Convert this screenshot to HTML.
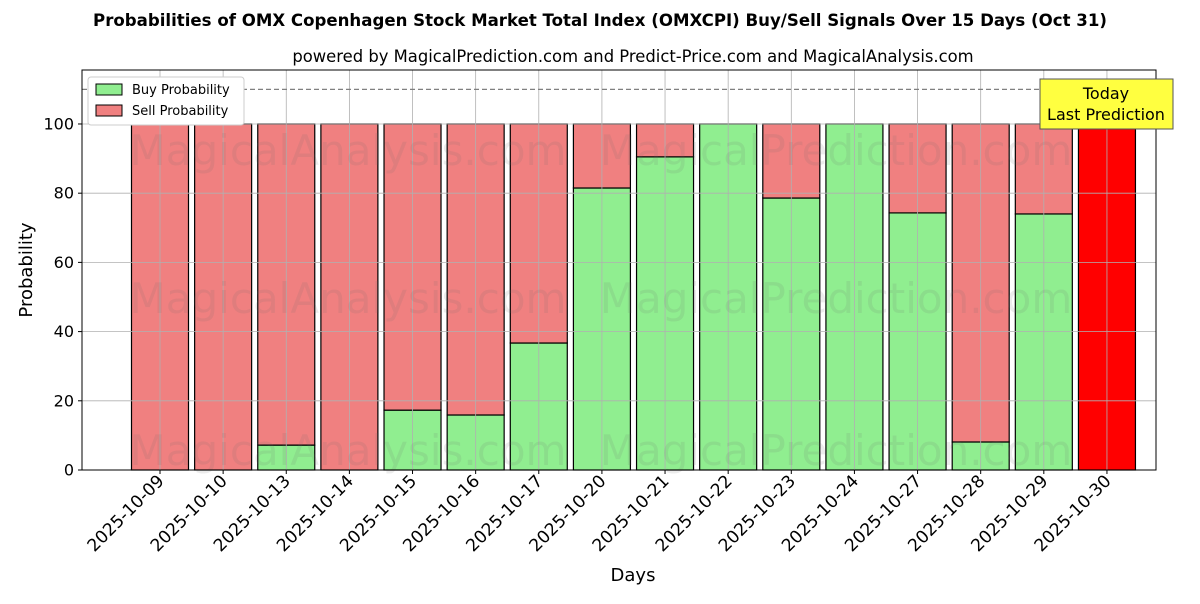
<!DOCTYPE html>
<html><head><meta charset="utf-8"><style>
body{margin:0;background:#fff;font-family:"DejaVu Sans","Liberation Sans",sans-serif;}
</style></head><body>
<svg id="chart" width="1200" height="600" xmlns="http://www.w3.org/2000/svg" font-family="DejaVu Sans, Liberation Sans, sans-serif">
<text x="600" y="26" text-anchor="middle" font-size="16.6" font-weight="bold">Probabilities of OMX Copenhagen Stock Market Total Index (OMXCPI) Buy/Sell Signals Over 15 Days (Oct 31)</text>
<text x="633" y="62" text-anchor="middle" font-size="16.4">powered by MagicalPrediction.com and Predict-Price.com and MagicalAnalysis.com</text>
<g id="plot"></g>
<text x="633" y="581" text-anchor="middle" font-size="18">Days</text>
<text transform="translate(32,270) rotate(-90)" text-anchor="middle" font-size="18">Probability</text>
</svg>
<script>
const categories=["2025-10-09","2025-10-10","2025-10-13","2025-10-14","2025-10-15","2025-10-16","2025-10-17","2025-10-20","2025-10-21","2025-10-22","2025-10-23","2025-10-24","2025-10-27","2025-10-28","2025-10-29","2025-10-30"];
const buyValues=[0,0,7.2,0,17.3,15.9,36.7,81.5,90.5,100,78.6,100,74.3,8.1,74,0];
const sellValues=[100,100,92.8,100,82.7,84.1,63.3,18.5,9.5,0,21.4,0,25.7,91.9,26,100];
const yTicks=[0,20,40,60,80,100];
const L=82,R=1156,T=70,B=470;
const yMax=115.6;
const y=v=>B-(v/yMax)*(B-T);
const x=i=>160+i*63.13;
const bw=57;
const NS="http://www.w3.org/2000/svg";
const g=document.getElementById('plot');
function mk(t,a,p){const e=document.createElementNS(NS,t);for(const k in a)e.setAttribute(k,a[k]);(p||g).appendChild(e);return e;}
categories.forEach((c,i)=>{
 const last=i===categories.length-1;
 if(buyValues[i]>0){
  const r=mk('rect',{x:x(i)-bw/2,y:y(buyValues[i]),width:bw,height:y(0)-y(buyValues[i]),fill:'#90ee90',stroke:'#000','stroke-width':1.2});
  
  
 }
 if(sellValues[i]>0){
  const top=buyValues[i]+sellValues[i];
  const r=mk('rect',{x:x(i)-bw/2,y:y(top),width:bw,height:y(buyValues[i])-y(top),fill:last?'#ff0000':'#f08080',stroke:'#000','stroke-width':1.2});
  
  
 }
});
yTicks.forEach(v=>{
 const l=mk('line',{x1:L,x2:R,y1:y(v),y2:y(v),stroke:'#b0b0b0','stroke-width':0.8});
 
 
 mk('line',{x1:L-4,x2:L,y1:y(v),y2:y(v),stroke:'#000'});
 const t=mk('text',{x:L-8,y:y(v)+5.5,'text-anchor':'end','font-size':16});t.textContent=v;
 
 
});
categories.forEach((c,i)=>{
 const l=mk('line',{x1:x(i),x2:x(i),y1:T,y2:B,stroke:'#b0b0b0','stroke-width':0.8});
 
 
 mk('line',{x1:x(i),x2:x(i),y1:B,y2:B+4,stroke:'#000'});
 const t=mk('text',{transform:`translate(${x(i)+5},${B+12}) rotate(-45)`,'text-anchor':'end','font-size':17.2});
 t.textContent=c;
 
 
});
[[348,150],[836,150],[348,298],[836,298],[348,450],[836,450]].forEach((p,k)=>{
 const t=mk('text',{x:p[0],y:p[1]+15,'text-anchor':'middle','font-size':42,fill:'rgba(110,110,110,0.13)'});
 t.textContent=k%2?'MagicalPrediction.com':'MagicalAnalysis.com';
 
 
});
const dl=mk('line',{x1:L,x2:R,y1:y(110),y2:y(110),stroke:'#808080','stroke-width':1.3,'stroke-dasharray':'5,3'});


const fr=mk('rect',{x:L,y:T,width:R-L,height:B-T,fill:'none',stroke:'#000','stroke-width':1});


const tb=mk('g',{});


mk('rect',{x:1040,y:79,width:133,height:50,fill:'#ffff40',stroke:'#555'},tb);
let t1=mk('text',{x:1106,y:99,'text-anchor':'middle','font-size':16},tb);t1.textContent='Today';
let t2=mk('text',{x:1106,y:120,'text-anchor':'middle','font-size':16},tb);t2.textContent='Last Prediction';
const lg=mk('g',{});


mk('rect',{x:88,y:77,width:156,height:48,fill:'#fff',stroke:'#ccc',rx:3},lg);
mk('rect',{x:96,y:84,width:26,height:11,fill:'#90ee90',stroke:'#000'},lg);
mk('rect',{x:96,y:105,width:26,height:11,fill:'#f08080',stroke:'#000'},lg);
let a=mk('text',{x:132,y:94,'font-size':13},lg);a.textContent='Buy Probability';


let b=mk('text',{x:132,y:115,'font-size':13},lg);b.textContent='Sell Probability';


</script>
</body></html>
